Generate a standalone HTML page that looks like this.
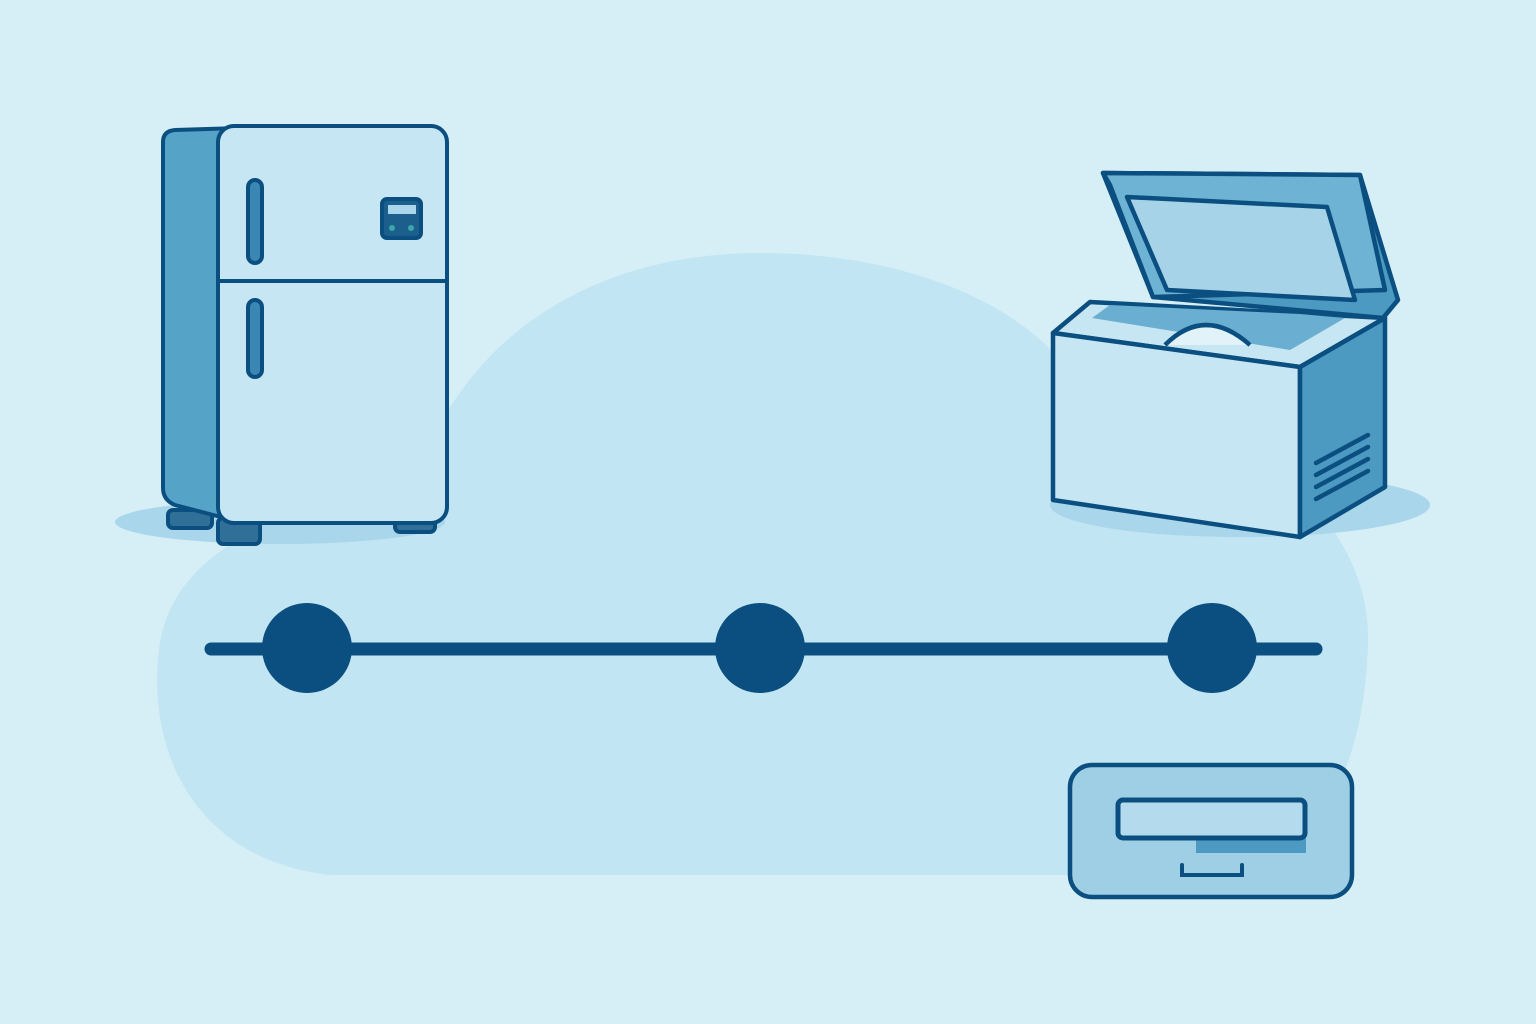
<!DOCTYPE html>
<html><head><style>html,body{margin:0;padding:0;background:#d6eef6}svg{display:block}</style></head>
<body>
<svg width="1536" height="1024" viewBox="0 0 1536 1024" xmlns="http://www.w3.org/2000/svg">
<rect width="1536" height="1024" fill="#d6eef6"/>
<path d="M330 875 C200 860 150 760 158 660 C165 560 250 520 420 470 C470 330 600 253 760 253 C900 253 1010 300 1060 360 C1250 420 1370 520 1368 640 C1366 760 1320 860 1240 875 Z" fill="#c1e5f3"/>
<!-- shadows -->
<ellipse cx="280" cy="522" rx="165" ry="22" fill="#a9d6ea"/>
<ellipse cx="1240" cy="505" rx="190" ry="32" fill="#a9d6ea"/>
<g stroke="#0b4f80" stroke-width="4" stroke-linejoin="round" fill="none">
<!-- fridge -->
<rect x="168" y="510" width="44" height="18" rx="5" fill="#2f6f98"/>
<rect x="218" y="518" width="42" height="26" rx="5" fill="#2f6f98"/>
<rect x="395" y="508" width="40" height="24" rx="5" fill="#2f6f98"/>
<path d="M175 130 L240 128 L240 522 L175 505 Q163 500 163 488 L163 142 Q163 131 175 130 Z" fill="#56a3c8"/>
<rect x="218" y="126" width="229" height="397" rx="16" fill="#c6e6f3"/>
<line x1="220" y1="281" x2="445" y2="281"/>
<rect x="248" y="180" width="14" height="83" rx="7" fill="#3a87b3"/>
<rect x="248" y="300" width="14" height="77" rx="7" fill="#3a87b3"/>
<rect x="382" y="199" width="39" height="39" rx="5" fill="#1c5f8d"/>
</g>
<rect x="388" y="205" width="28" height="9" fill="#a9d6ea"/>
<circle cx="392" cy="228" r="3" fill="#3aa6a8"/><circle cx="411" cy="228" r="3" fill="#3aa6a8"/>
<!-- freezer -->
<g stroke="#0b4f80" stroke-width="4.5" stroke-linejoin="round">
<polygon points="1103,173 1360,175 1398,300 1383,318 1153,297" fill="#4c99c2"/>
<polygon points="1103,173 1360,175 1385,290 1153,297 1110,185" fill="#6eb2d4"/>
<polygon points="1127,197 1327,207 1355,300 1167,290" fill="#a6d3e8"/>
<polygon points="1053,333 1090,302 1385,318 1300,367" fill="#c6e6f3"/>
<polygon points="1092,318 1110,305 1300,314 1345,318 1290,350" fill="#6aaed2" stroke="none"/>
<path d="M1165 345 Q1205 305 1250 345" fill="#e2f2f9"/>
<path d="M1152 352 L1208 360" stroke-width="6"/>
<polygon points="1053,333 1300,367 1300,537 1053,500" fill="#c6e6f3"/>
<polygon points="1300,367 1385,318 1385,487 1300,537" fill="#4c99c2"/>
<g stroke-width="4.5" stroke-linecap="round">
<line x1="1316" y1="463" x2="1368" y2="435"/>
<line x1="1316" y1="475" x2="1368" y2="447"/>
<line x1="1316" y1="487" x2="1368" y2="459"/>
<line x1="1316" y1="499" x2="1368" y2="471"/>
</g>
</g>
<!-- timeline -->
<line x1="211" y1="649" x2="1316" y2="649" stroke="#0b4f80" stroke-width="13" stroke-linecap="round"/>
<circle cx="307" cy="648" r="45" fill="#0b4f80"/>
<circle cx="760" cy="648" r="45" fill="#0b4f80"/>
<circle cx="1212" cy="648" r="45" fill="#0b4f80"/>
<!-- drawer -->
<rect x="1070" y="765" width="282" height="132" rx="22" fill="#9fcfe5" stroke="#0b4f80" stroke-width="4.5"/>
<rect x="1196" y="835" width="110" height="18" fill="#4c99c2"/>
<rect x="1118" y="800" width="187" height="38" rx="5" fill="#b3dbed" stroke="#0b4f80" stroke-width="5"/>
<path d="M1182 865 L1182 875 L1242 875 L1242 865" fill="none" stroke="#0b4f80" stroke-width="4" stroke-linecap="round"/>
</svg>
</body></html>
